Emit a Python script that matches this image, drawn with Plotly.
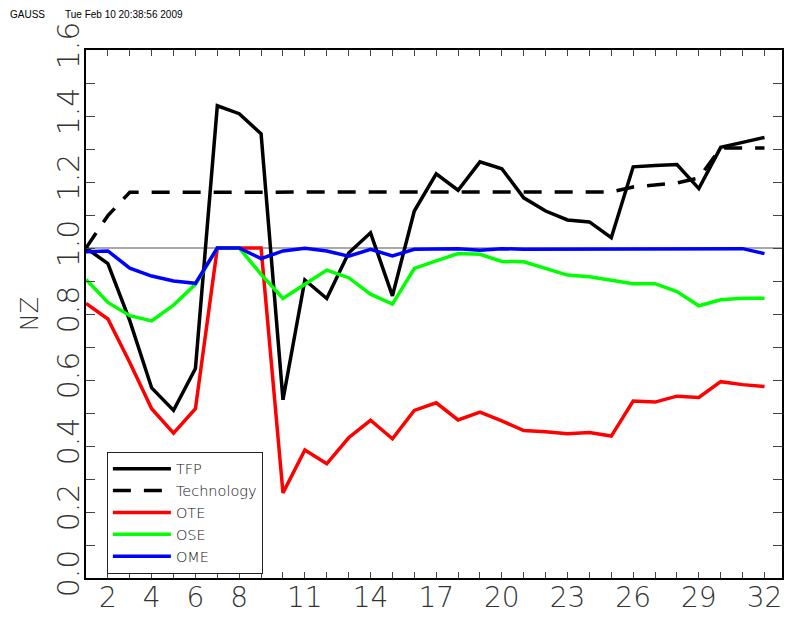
import plotly.graph_objects as go

# Period index 1..32
periods = list(range(1, 33))

tfp = [1.000, 0.953, 0.780, 0.576, 0.508, 0.635, 1.431, 1.407, 1.346, 0.540,
       0.903, 0.847, 0.985, 1.046, 0.855, 1.112, 1.225, 1.175, 1.261, 1.240,
       1.152, 1.112, 1.085, 1.079, 1.031, 1.246, 1.250, 1.253, 1.180, 1.305,
       1.320, 1.335]

technology = [1.000, 1.098, 1.169, 1.169, 1.169, 1.169, 1.169, 1.169, 1.169, 1.169,
              1.169, 1.169, 1.169, 1.169, 1.169, 1.169, 1.169, 1.169, 1.169, 1.169,
              1.169, 1.169, 1.169, 1.169, 1.170, 1.185, 1.191, 1.197, 1.212, 1.303,
              1.303, 1.303]

ote = [0.832, 0.785, 0.653, 0.513, 0.439, 0.513, 1.000, 1.000, 1.000, 0.258,
       0.388, 0.346, 0.425, 0.478, 0.422, 0.508, 0.531, 0.479, 0.503, 0.476,
       0.447, 0.443, 0.437, 0.441, 0.430, 0.536, 0.533, 0.551, 0.547, 0.595,
       0.586, 0.580]

ose = [0.905, 0.835, 0.795, 0.779, 0.827, 0.890, 1.000, 1.000, 0.920, 0.847,
       0.890, 0.933, 0.910, 0.860, 0.830, 0.938, 0.961, 0.983, 0.981, 0.959,
       0.958, 0.938, 0.918, 0.913, 0.902, 0.892, 0.892, 0.868, 0.825, 0.843,
       0.848, 0.848]

ome = [0.989, 0.991, 0.939, 0.915, 0.900, 0.893, 1.000, 1.000, 0.968, 0.991,
       0.999, 0.991, 0.975, 0.996, 0.976, 0.996, 0.997, 0.998, 0.993, 0.998,
       0.996, 0.996, 0.996, 0.996, 0.997, 0.996, 0.998, 0.998, 0.998, 0.998,
       0.998, 0.983]

x_labels = {2: "2", 4: "4", 6: "6", 8: "8", 11: "11", 14: "14", 17: "17",
            20: "20", 23: "23", 26: "26", 29: "29", 32: "32"}
y_ticks = [round(0.1 * i, 1) for i in range(17)]
y_labels = ["%.1f" % v if i % 2 == 0 else "" for i, v in enumerate(y_ticks)]

FONT = "DejaVu Sans"
THIN = 200

series = [
    ("TFP", tfp, "black", "solid"),
    ("Technology", technology, "black", "18px,13px"),
    ("OTE", ote, "#ff0000", "solid"),
    ("OSE", ose, "#00ff00", "solid"),
    ("OME", ome, "#0000ff", "solid"),
]

fig = go.Figure()
for name, vals, color, dash in series:
    fig.add_trace(go.Scatter(
        x=periods, y=vals, name=name, mode="lines",
        line=dict(color=color, width=3.5, dash=dash),
    ))

# reference level at 1.0
fig.add_shape(type="line", xref="paper", yref="y", x0=0, x1=1, y0=1.0, y1=1.0,
              line=dict(color="#555555", width=1), layer="below")

fig.update_layout(
    width=786, height=617,
    margin=dict(l=86, r=4, t=50, b=39),
    paper_bgcolor="white", plot_bgcolor="white",
    font=dict(family=FONT, color="#222222", weight=THIN),
    showlegend=True,
    legend=dict(
        x=0.030, y=0.239, xanchor="left", yanchor="top",
        bgcolor="white", bordercolor="#222222", borderwidth=1,
        font=dict(family=FONT, size=14.5, color="#111111", weight=THIN),
        itemwidth=58, tracegroupgap=0,
    ),
    xaxis=dict(
        range=[1, 32.8], showgrid=False, zeroline=False, automargin=False,
        showline=True, linecolor="black", linewidth=2, mirror="ticks",
        ticks="inside", ticklen=6, tickcolor="#444444", tickwidth=1,
        tickvals=periods, ticktext=[x_labels.get(p, "") for p in periods],
        tickfont=dict(family=FONT, size=28, color="#333333", weight=THIN),
        ticklabelstandoff=-7,
    ),
    yaxis=dict(
        range=[0, 1.6], showgrid=False, zeroline=False, automargin=False,
        showline=True, linecolor="black", linewidth=2, mirror="ticks",
        ticks="inside", ticklen=9, tickcolor="#444444", tickwidth=1,
        tickvals=y_ticks, ticktext=y_labels, tickangle=-90,
        tickfont=dict(family=FONT, size=30, color="#333333", weight=THIN),
        ticklabelstandoff=-7,
        title=dict(text="NZ", font=dict(family=FONT, size=24, color="#333333", weight=THIN),
                   standoff=6),
    ),
)

header_font = dict(family="Liberation Sans", size=10, color="black", weight=400)
fig.add_annotation(text="GAUSS", xref="paper", yref="paper",
                   x=(8 - 86) / 696, y=(578 - 14) / 528, xanchor="left", yanchor="middle",
                   showarrow=False, font=header_font)
fig.add_annotation(text="Tue Feb 10 20:38:56 2009", xref="paper", yref="paper",
                   x=(63 - 86) / 696, y=(578 - 14) / 528, xanchor="left", yanchor="middle",
                   showarrow=False, font=header_font)

fig.write_html("out.html")
